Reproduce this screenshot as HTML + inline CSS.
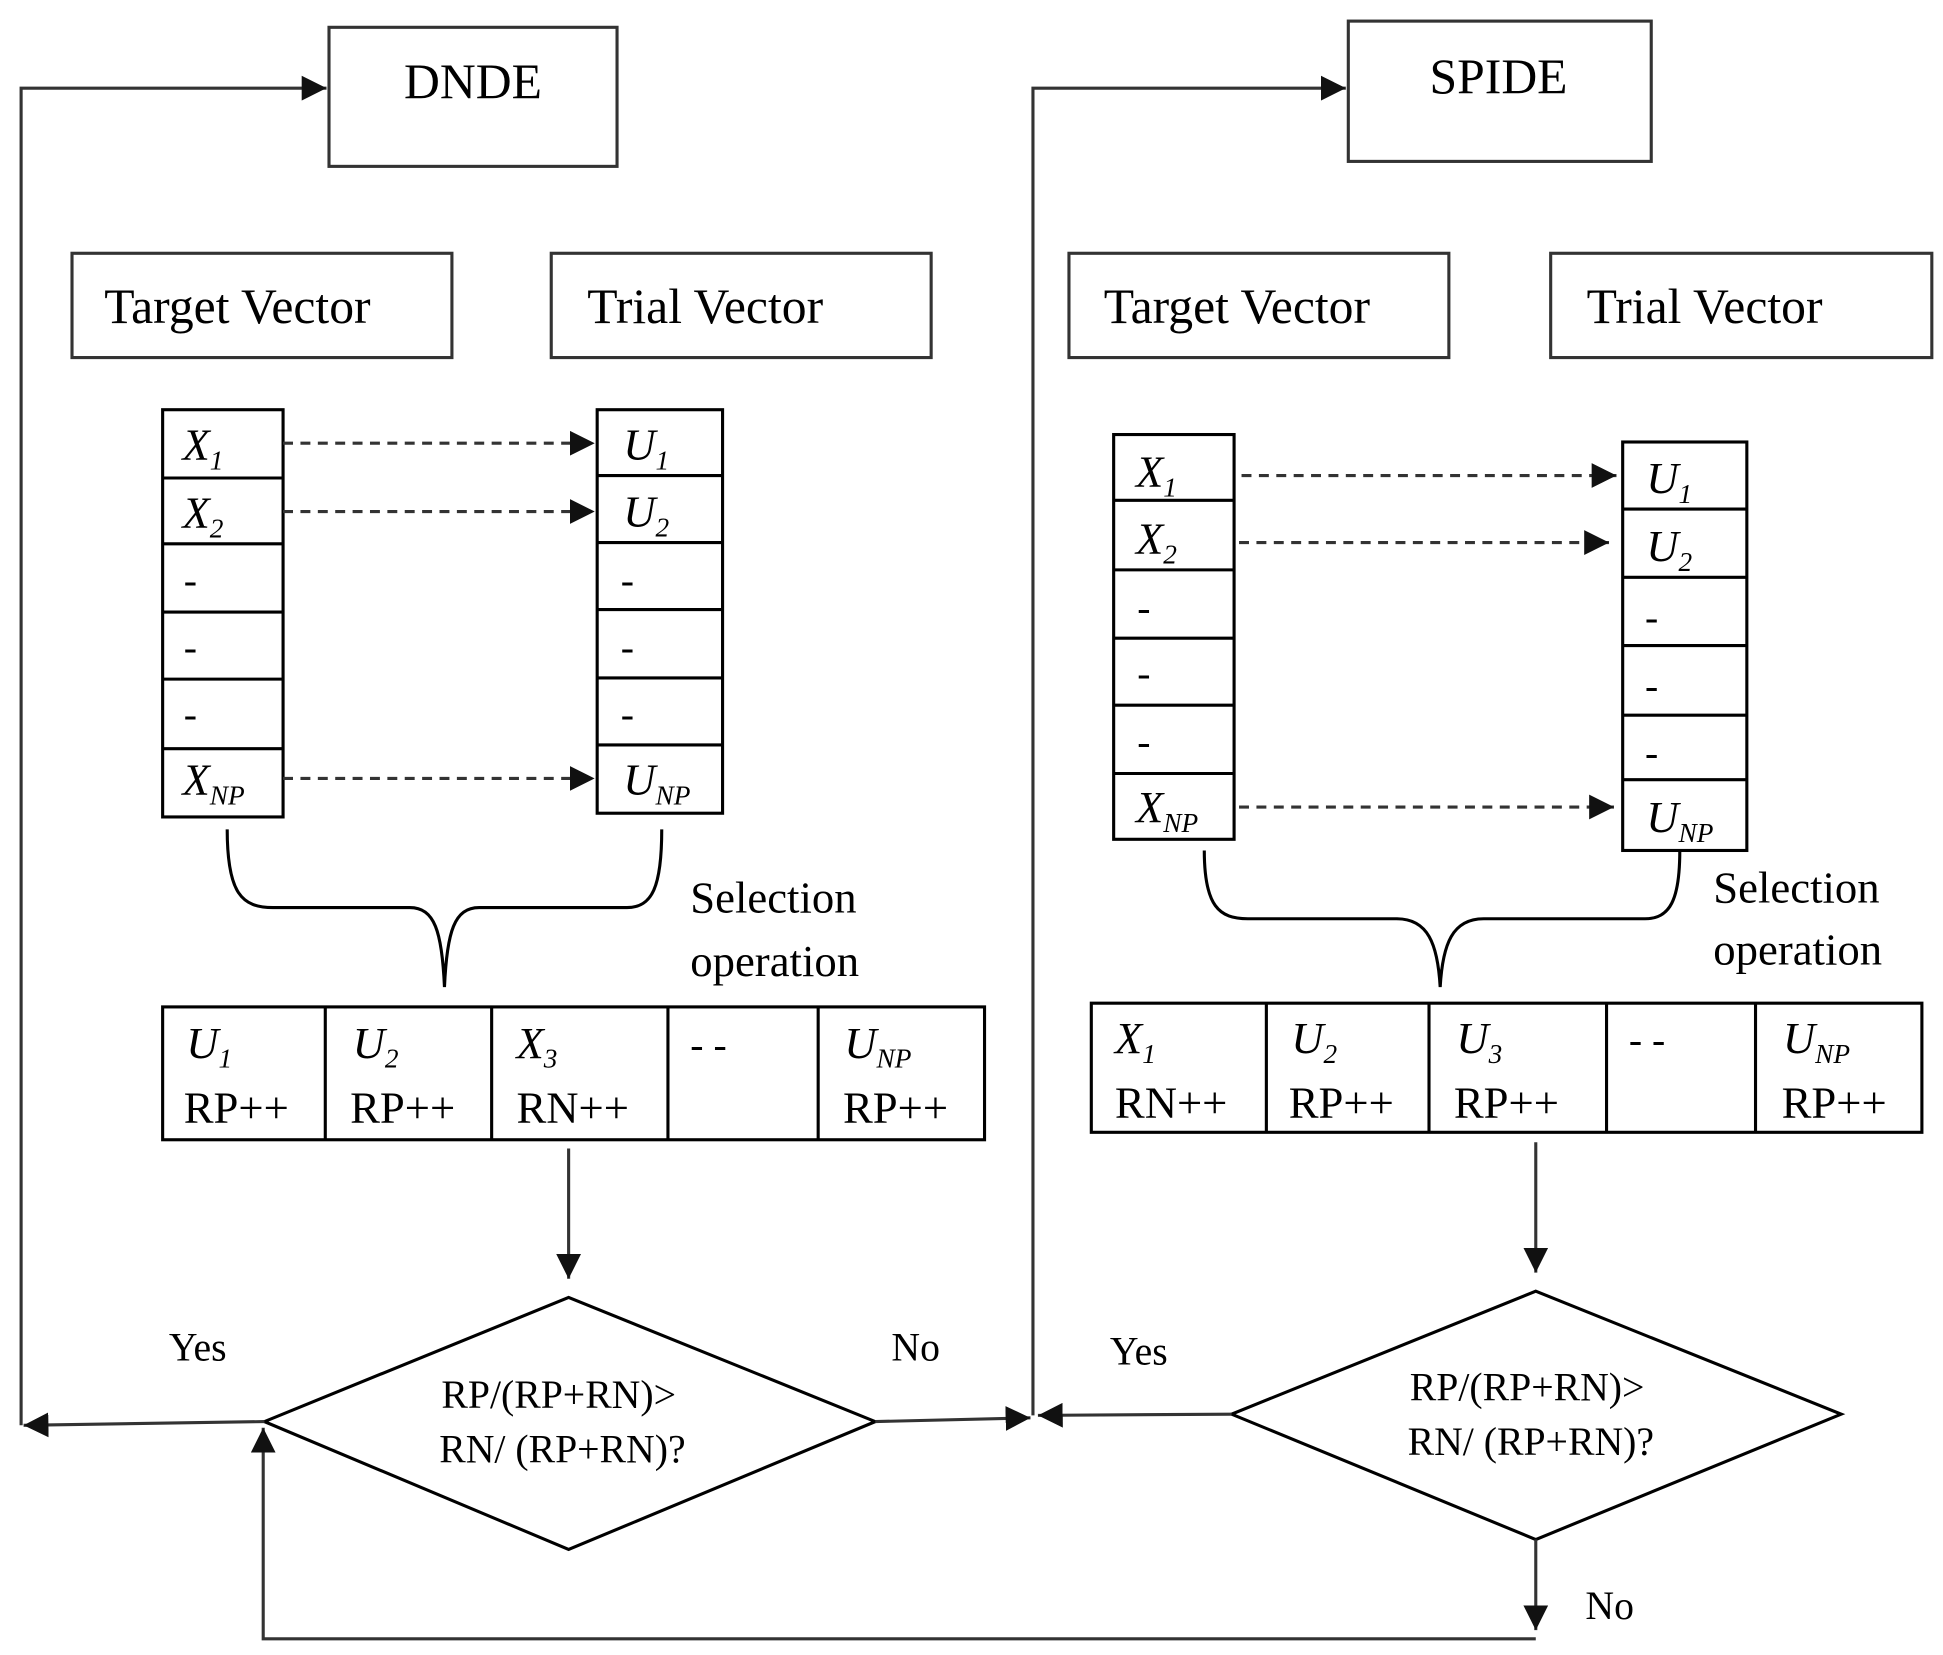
<!DOCTYPE html>
<html><head><meta charset="utf-8"><style>html,body{margin:0;padding:0;background:#fff}svg{display:block}</style></head><body>
<svg width="1943" height="1655" viewBox="0 0 1565 1333" preserveAspectRatio="none" xmlns="http://www.w3.org/2000/svg" font-family="Liberation Serif, serif" fill="#000">
<defs><marker id="a" viewBox="0 0 10 10" refX="10" refY="5" markerWidth="8" markerHeight="8" orient="auto"><path d="M0,0L10,5L0,10z" fill="#111"/></marker></defs>
<g stroke="#333" stroke-width="2.5" fill="none">
<rect x="265" y="22" width="232" height="112"/>
<rect x="1086" y="17" width="244" height="113"/>
<rect x="58" y="204" width="306" height="84"/>
<rect x="444" y="204" width="306" height="84"/>
<rect x="861" y="204" width="306" height="84"/>
<rect x="1249" y="204" width="307" height="84"/>
</g>
<g stroke="#000" stroke-width="2.5" fill="none">
<rect x="131" y="330" width="97" height="328"/>
<path d="M131 385H228M131 438H228M131 493H228M131 547H228M131 603H228"/>
<rect x="481" y="330" width="101" height="325"/>
<path d="M481 383H582M481 437H582M481 491H582M481 546H582M481 600H582"/>
<rect x="897" y="350" width="97" height="326"/>
<path d="M897 403H994M897 459H994M897 514H994M897 568H994M897 623H994"/>
<rect x="1307" y="356" width="100" height="329"/>
<path d="M1307 410H1407M1307 465H1407M1307 520H1407M1307 576H1407M1307 628H1407"/>
<rect x="131" y="811" width="662" height="107"/>
<path d="M262 811V918M396 811V918M538 811V918M659 811V918"/>
<rect x="879" y="808" width="669" height="104"/>
<path d="M1020 808V912M1151 808V912M1294 808V912M1414 808V912"/>
<path d="M458 1045L705 1145L458 1248L213 1145Z"/>
<path d="M1237 1040L1483 1139L1237 1240L992 1139Z"/>
<path d="M183 668C183 720 195 731 220 731H330C350 731 356 750 358 795C360 750 366 731 386 731H505C525 731 533 715 533 668"/>
<path d="M970 685C970 730 982 740 1005 740H1125C1150 740 1158 760 1160 795C1162 760 1170 740 1195 740H1325C1345 740 1353 725 1353 685"/>
</g>
<g stroke="#333" stroke-width="2.5" fill="none" marker-end="url(#a)">
<path d="M17 1148V71H263"/>
<path d="M832 1140V71H1084"/>
<path d="M458 925V1030"/>
<path d="M1237 920V1025"/>
<path d="M213 1145L19 1148"/>
<path d="M705 1145L830 1142"/>
<path d="M992 1139L836 1140"/>
<path d="M1237 1240V1313"/>
<path d="M1237 1320H212V1150"/>
</g>
<g stroke="#333" stroke-width="2.5" fill="none" stroke-dasharray="8,6" marker-end="url(#a)">
<path d="M228 357H479"/><path d="M228 412H479"/><path d="M228 627H479"/>
<path d="M1000 383H1302"/><path d="M998 437H1296"/><path d="M998 650H1300"/>
</g>
<g font-size="40" text-anchor="middle">
<text x="381" y="79">DNDE</text>
<text x="1207" y="75">SPIDE</text>
</g>
<g font-size="40">
<text x="84" y="260">Target Vector</text>
<text x="473" y="260">Trial Vector</text>
<text x="889" y="260">Target Vector</text>
<text x="1278" y="260">Trial Vector</text>
</g>
<g font-size="36">
<text x="556" y="735">Selection</text><text x="556" y="786">operation</text>
<text x="1380" y="727">Selection</text><text x="1380" y="777">operation</text>
</g>
<g font-size="36" font-style="italic">
<text x="147" y="370">X<tspan font-size="22" dy="8">1</tspan></text>
<text x="147" y="425">X<tspan font-size="22" dy="8">2</tspan></text>
<text x="147" y="640">X<tspan font-size="22" dy="8">NP</tspan></text>
<text x="502" y="370">U<tspan font-size="22" dy="8">1</tspan></text>
<text x="502" y="424">U<tspan font-size="22" dy="8">2</tspan></text>
<text x="502" y="640">U<tspan font-size="22" dy="8">NP</tspan></text>
<text x="915" y="392">X<tspan font-size="22" dy="8">1</tspan></text>
<text x="915" y="446">X<tspan font-size="22" dy="8">2</tspan></text>
<text x="915" y="662">X<tspan font-size="22" dy="8">NP</tspan></text>
<text x="1326" y="397">U<tspan font-size="22" dy="8">1</tspan></text>
<text x="1326" y="452">U<tspan font-size="22" dy="8">2</tspan></text>
<text x="1326" y="670">U<tspan font-size="22" dy="8">NP</tspan></text>
<text x="150" y="852">U<tspan font-size="22" dy="8">1</tspan></text>
<text x="284" y="852">U<tspan font-size="22" dy="8">2</tspan></text>
<text x="416" y="852">X<tspan font-size="22" dy="8">3</tspan></text>
<text x="680" y="852">U<tspan font-size="22" dy="8">NP</tspan></text>
<text x="898" y="848">X<tspan font-size="22" dy="8">1</tspan></text>
<text x="1040" y="848">U<tspan font-size="22" dy="8">2</tspan></text>
<text x="1173" y="848">U<tspan font-size="22" dy="8">3</tspan></text>
<text x="1436" y="848">U<tspan font-size="22" dy="8">NP</tspan></text>
</g>
<g font-size="32">
<text x="148" y="478">-</text><text x="148" y="532">-</text><text x="148" y="586">-</text>
<text x="500" y="478">-</text><text x="500" y="532">-</text><text x="500" y="586">-</text>
<text x="916" y="500">-</text><text x="916" y="553">-</text><text x="916" y="608">-</text>
<text x="1325" y="508">-</text><text x="1325" y="563">-</text><text x="1325" y="617">-</text>
<text x="556" y="852">- -</text><text x="1312" y="848">- -</text>
</g>
<g font-size="36">
<text x="148" y="904">RP++</text><text x="282" y="904">RP++</text><text x="416" y="904">RN++</text><text x="679" y="904">RP++</text>
<text x="898" y="900">RN++</text><text x="1038" y="900">RP++</text><text x="1171" y="900">RP++</text><text x="1435" y="900">RP++</text>
</g>
<g font-size="32" text-anchor="middle">
<text x="450" y="1134">RP/(RP+RN)&gt;</text><text x="453" y="1178">RN/ (RP+RN)?</text>
<text x="1230" y="1128">RP/(RP+RN)&gt;</text><text x="1233" y="1172">RN/ (RP+RN)?</text>
</g>
<g font-size="32">
<text x="136" y="1096">Yes</text><text x="718" y="1096">No</text>
<text x="894" y="1099">Yes</text><text x="1277" y="1304">No</text>
</g>
</svg>
</body></html>
